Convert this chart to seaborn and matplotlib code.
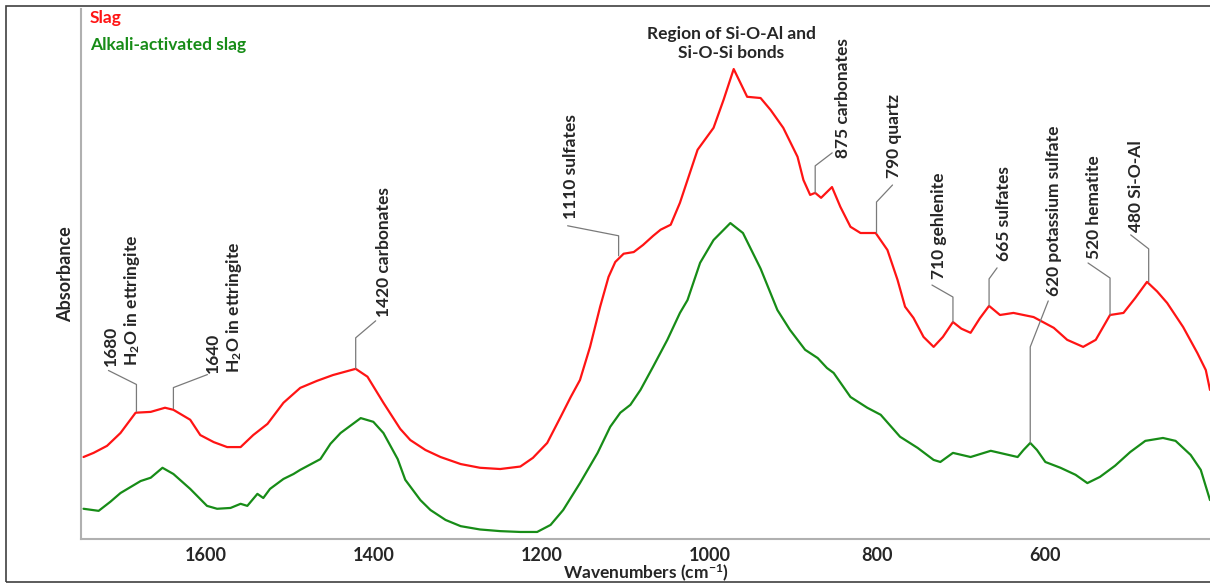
import numpy as np
import pandas as pd
import seaborn as sns
import matplotlib.pyplot as plt
from matplotlib.patches import Rectangle

# spectra (arbitrary absorbance units)
slag_wn = [1745, 1733, 1717, 1701, 1683, 1665, 1648, 1638, 1618, 1606, 1590, 1574, 1558, 1543,
           1526, 1507, 1487, 1467, 1448, 1421, 1407, 1388, 1368, 1356, 1338, 1320, 1296, 1273,
           1249, 1225, 1210, 1193, 1177, 1165, 1154, 1142, 1130, 1120, 1112, 1102, 1090, 1079,
           1067, 1058, 1046, 1035, 1014, 995, 983, 971, 955, 939, 927, 912, 895, 888, 880, 874,
           867, 854, 844, 832, 820, 812, 802, 788, 776, 767, 757, 745, 733, 722, 710, 700, 689,
           678, 667, 654, 638, 614, 590, 574, 555, 540, 523, 507, 493, 479, 467, 455, 436, 419,
           409, 404]
slag_abs = [1.35, 1.45, 1.62, 1.93, 2.42, 2.44, 2.54, 2.49, 2.25, 1.88, 1.71, 1.59, 1.59, 1.88,
            2.15, 2.66, 3.02, 3.19, 3.33, 3.48, 3.29, 2.66, 2.03, 1.76, 1.52, 1.35, 1.18, 1.09,
            1.06, 1.12, 1.33, 1.69, 2.32, 2.80, 3.21, 4.01, 4.98, 5.70, 6.06, 6.26, 6.30, 6.47,
            6.69, 6.84, 6.96, 7.49, 8.77, 9.30, 9.98, 10.72, 10.05, 10.02, 9.73, 9.30, 8.60, 8.04,
            7.68, 7.73, 7.61, 7.87, 7.39, 6.91, 6.76, 6.76, 6.76, 6.35, 5.63, 4.98, 4.71, 4.25,
            4.01, 4.25, 4.61, 4.45, 4.35, 4.70, 5.00, 4.78, 4.83, 4.73, 4.47, 4.18, 4.01, 4.18,
            4.78, 4.83, 5.19, 5.58, 5.35, 5.07, 4.49, 3.86, 3.45, 2.97]

aas_wn = [1745, 1727, 1713, 1701, 1677, 1665, 1651, 1638, 1618, 1598, 1586, 1570, 1558, 1550,
          1538, 1531, 1523, 1507, 1495, 1487, 1463, 1451, 1439, 1415, 1400, 1388, 1371, 1362,
          1344, 1332, 1314, 1296, 1273, 1249, 1225, 1205, 1189, 1174, 1154, 1133, 1118, 1106,
          1094, 1082, 1067, 1050, 1035, 1026, 1011, 995, 975, 960, 939, 919, 904, 886, 871, 860,
          852, 832, 812, 796, 773, 752, 733, 725, 710, 689, 665, 633, 626, 618, 610, 600, 582,
          564, 550, 535, 517, 499, 481, 460, 445, 427, 415, 404]
aas_abs = [0.10, 0.05, 0.27, 0.48, 0.77, 0.85, 1.09, 0.94, 0.58, 0.17, 0.10, 0.12, 0.22, 0.17,
           0.46, 0.36, 0.58, 0.82, 0.94, 1.04, 1.30, 1.67, 1.93, 2.29, 2.20, 1.93, 1.30, 0.80,
           0.31, 0.07, -0.17, -0.32, -0.40, -0.44, -0.46, -0.46, -0.29, 0.07, 0.72, 1.45, 2.08,
           2.42, 2.61, 2.97, 3.53, 4.18, 4.83, 5.14, 6.04, 6.59, 7.00, 6.76, 5.90, 4.90, 4.42,
           3.94, 3.74, 3.50, 3.38, 2.80, 2.54, 2.37, 1.84, 1.57, 1.28, 1.23, 1.45, 1.35, 1.50,
           1.35, 1.52, 1.69, 1.52, 1.23, 1.09, 0.92, 0.72, 0.87, 1.14, 1.47, 1.74, 1.81, 1.74,
           1.40, 1.04, 0.31]

peak_labels = ["1680\nH$_2$O in ettringite", "1640\nH$_2$O in ettringite", "1420 carbonates",
               "1110 sulfates", "875 carbonates", "790 quartz", "710 gehlenite", "665 sulfates",
               "620 potassium sulfate", "520 hematite", "480 Si-O-Al"]
peak_wn = [1682, 1638, 1421, 1108, 874, 801, 710, 667, 618, 523, 477]
peak_abs = [2.45, 2.52, 3.48, 6.21, 7.73, 6.76, 4.61, 5.00, 1.69, 4.78, 5.58]

# leader geometry in pixels: rise, dx, dy, text dx, text dy
leaders = [(27, -28, 14, 14, 4), (21, 34, 13, 17, 2), (31, 20, 17, 8, 4), (20, -51, 10, 3, 7),
           (27, 17, 13, 11, -5), (31, 16, 17, 1, 7), (25, -21, 12, 7, 6), (27, 8, 11, 7, 7),
           (96, 18, 46, 6, 5), (37, -22, 15, 6, 4), (33, -18, 14, 5, 3)]

RED = "#ff1414"
GREEN = "#178c17"

sns.set_style("white")
plt.rcParams["font.family"] = ["Lato", "DejaVu Sans"]
plt.rcParams["font.weight"] = "bold"
plt.rcParams["mathtext.fontset"] = "custom"
plt.rcParams["mathtext.rm"] = "Lato:bold"
plt.rcParams["mathtext.it"] = "Lato:bold"
plt.rcParams["mathtext.bf"] = "Lato:bold"

fig = plt.figure(figsize=(12.1, 5.83), dpi=100)
ax = fig.add_axes([81 / 1210, 1 - 539 / 583, 1129 / 1210, 530 / 583])

slag = pd.DataFrame({"wn": slag_wn, "abs": slag_abs})
aas = pd.DataFrame({"wn": aas_wn, "abs": aas_abs})
sns.lineplot(data=slag, x="wn", y="abs", color=RED, lw=1.6, ax=ax, sort=False)
sns.lineplot(data=aas, x="wn", y="abs", color=GREEN, lw=1.6, ax=ax, sort=False)

ax.set_xlim(1748, 404)
ax.set_ylim(-0.63, 12.17)
ax.set_xticks([1600, 1400, 1200, 1000, 800, 600])
ax.set_xticks(np.arange(450, 1750, 50), minor=True)
ax.set_yticks(np.arange(0, 13, 1))
ax.set_yticks(np.arange(-0.6, 12.1, 0.2), minor=True)
ax.set_yticklabels([])
ax.tick_params(axis="both", which="major", direction="out", length=4, width=1,
               color="#707070", labelsize=13, pad=2)
ax.tick_params(axis="both", which="minor", direction="out", length=2.5, width=1,
               color="#909090")
for t in ax.get_xticklabels():
    t.set_fontweight("bold")

for s in ["top", "right"]:
    ax.spines[s].set_visible(False)
for s in ["left", "bottom"]:
    ax.spines[s].set_color("#b0b0b0")
    ax.spines[s].set_linewidth(1.5)

ax.set_xlabel("Wavenumbers (cm$^{-1}$)", fontsize=12.5, fontweight="bold", labelpad=-1)
ax.set_ylabel("Absorbance", fontsize=13, fontweight="bold", labelpad=-1)

ax.text(0.008, 0.983, "Slag", color=RED, fontsize=12.5, fontweight="bold",
        transform=ax.transAxes, va="center", ha="left")
ax.text(0.008, 0.932, "Alkali-activated slag", color=GREEN, fontsize=12.5,
        fontweight="bold", transform=ax.transAxes, va="center", ha="left")

ax.text(974, 11.33, "Region of Si-O-Al and\nSi-O-Si bonds", fontsize=12.5,
        fontweight="bold", ha="center", va="center", multialignment="center",
        linespacing=1.25)

# leader lines and rotated labels
to_disp = ax.transData.transform
to_data = ax.transData.inverted().transform
for lab, w, a, (rise, dx, dy, tdx, tdy) in zip(peak_labels, peak_wn, peak_abs, leaders):
    p0 = to_disp((w, a))
    p1 = p0 + np.array([0, rise])
    p2 = p1 + np.array([dx, dy])
    pts = to_data(np.array([p0, p1, p2]))
    ax.plot(pts[:, 0], pts[:, 1], color="#7a7a7a", lw=0.9)
    tx, ty = to_data(p2 + np.array([tdx, tdy]))
    ax.text(tx, ty, lab, rotation=90, fontsize=12.5, fontweight="bold", ha="center",
            va="bottom", multialignment="left", linespacing=1.15)

fig.patches.append(Rectangle((6 / 1210, 1 / 583), 1.01, 576 / 583, transform=fig.transFigure,
                             fill=False, edgecolor="#404040", lw=1.2, clip_on=False))

fig.savefig("out.png", dpi=100)
